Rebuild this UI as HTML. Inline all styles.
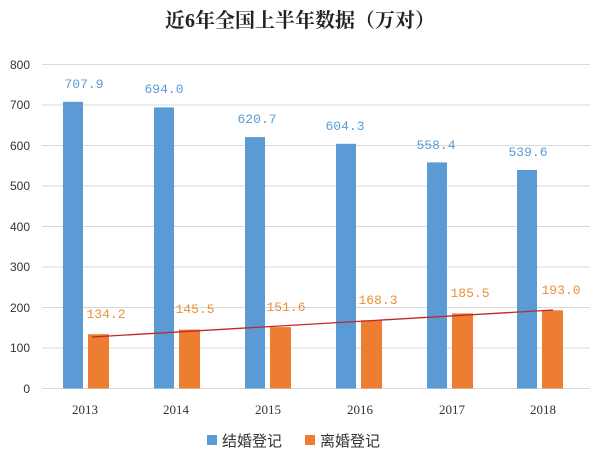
<!DOCTYPE html>
<html><head><meta charset="utf-8"><style>
body{margin:0;background:#fff;width:600px;height:464px;overflow:hidden}
</style></head><body>
<svg width="600" height="464" xmlns="http://www.w3.org/2000/svg">
<text x="300" y="27" text-anchor="middle" font-family="'Liberation Serif','Noto Serif CJK SC',serif" font-size="20" font-weight="bold" fill="#222">近6年全国上半年数据（万对）</text>
<g stroke="#d9d9d9" stroke-width="1">
<line x1="42" x2="590" y1="64.5" y2="64.5"/><line x1="42" x2="590" y1="105" y2="105"/>
<line x1="42" x2="590" y1="145.5" y2="145.5"/><line x1="42" x2="590" y1="186" y2="186"/>
<line x1="42" x2="590" y1="226.5" y2="226.5"/><line x1="42" x2="590" y1="267" y2="267"/>
<line x1="42" x2="590" y1="307.5" y2="307.5"/><line x1="42" x2="590" y1="348" y2="348"/>
<line x1="42" x2="590" y1="388.5" y2="388.5"/>
</g>
<g font-family="'Liberation Sans',sans-serif" font-size="12" fill="#333" text-anchor="end">
<text x="30" y="69">800</text><text x="30" y="109">700</text><text x="30" y="150">600</text>
<text x="30" y="190">500</text><text x="30" y="231">400</text><text x="30" y="271">300</text>
<text x="30" y="312">200</text><text x="30" y="352">100</text><text x="30" y="393">0</text>
</g>
<g fill="#5b9bd5">
<rect x="63" y="101.8" width="20" height="286.7"/>
<rect x="154" y="107.4" width="20" height="281.1"/>
<rect x="245" y="137.1" width="20" height="251.4"/>
<rect x="336" y="143.8" width="20" height="244.7"/>
<rect x="427" y="162.4" width="20" height="226.1"/>
<rect x="517" y="170" width="20" height="218.5"/>
</g>
<g fill="#ed7d31">
<rect x="88" y="334.2" width="21" height="54.3"/>
<rect x="179" y="329.6" width="21" height="58.9"/>
<rect x="270" y="327.1" width="21" height="61.4"/>
<rect x="361" y="320.3" width="21" height="68.2"/>
<rect x="452" y="313.4" width="21" height="75.1"/>
<rect x="542" y="310.3" width="21" height="78.2"/>
</g>
<line x1="92" y1="337" x2="553" y2="310" stroke="#c0282a" stroke-width="1.3"/>
<g font-family="'Liberation Mono',monospace" font-size="13" fill="#5b9bd5" text-anchor="middle">
<text x="84" y="88">707.9</text><text x="164" y="93">694.0</text><text x="257" y="123">620.7</text>
<text x="345" y="130">604.3</text><text x="436" y="149">558.4</text><text x="528" y="156">539.6</text>
</g>
<g font-family="'Liberation Mono',monospace" font-size="13" fill="#e8903a" text-anchor="middle">
<text x="106" y="318">134.2</text><text x="195" y="313">145.5</text><text x="286" y="311">151.6</text>
<text x="378" y="304">168.3</text><text x="470" y="297">185.5</text><text x="561" y="294">193.0</text>
</g>
<g font-family="'Liberation Serif',serif" font-size="13" fill="#333" text-anchor="middle">
<text x="85" y="414">2013</text><text x="176" y="414">2014</text><text x="268" y="414">2015</text>
<text x="360" y="414">2016</text><text x="452" y="414">2017</text><text x="543" y="414">2018</text>
</g>
<rect x="207" y="435" width="10" height="10" fill="#5b9bd5"/>
<text x="222" y="446" font-family="'Liberation Sans','Noto Sans CJK SC',sans-serif" font-size="15" fill="#333">结婚登记</text>
<rect x="305" y="435" width="10" height="10" fill="#ed7d31"/>
<text x="320" y="446" font-family="'Liberation Sans','Noto Sans CJK SC',sans-serif" font-size="15" fill="#333">离婚登记</text>
</svg>
</body></html>
